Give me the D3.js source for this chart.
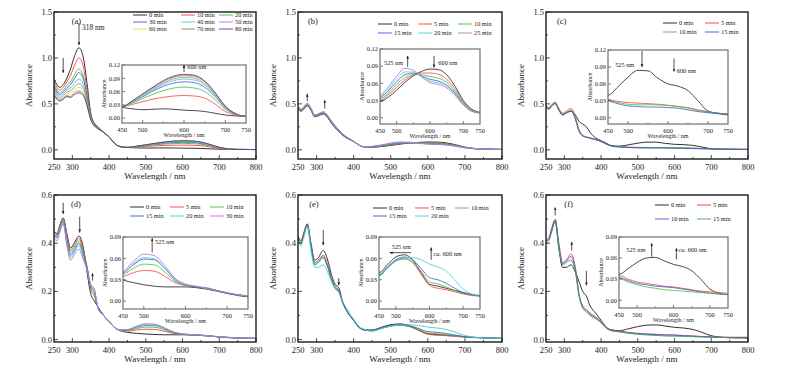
<!DOCTYPE html>
<html>
<head>
<meta charset="utf-8">
<script src="https://cdn.jsdelivr.net/npm/d3@7/dist/d3.min.js"></script>
<style>
  body { margin: 0; background: #fff; }
  svg { display: block; }
  text { font-family: 'Liberation Serif', 'Times New Roman', serif; fill: #222; }
</style>
</head>
<body>
<svg id="chart" width="790" height="381"></svg>
<script>
// shared wavelength grid (nm)
const wavelengths = [250,258,265,275,285,295,305,318,330,340,350,360,370,385,400,415,430,
  450,475,500,525,550,575,600,625,650,675,700,725,750,800];

// (a)
const namesA = ['0 min','10 min','20 min','30 min','40 min','50 min','60 min','70 min','80 min'];
const seriesA = [
  [0.77,0.71,0.68,0.71,0.78,0.88,1.01,1.11,1.00,0.72,0.40,0.29,0.25,0.19,0.14,0.07,0.035, 0.025,0.021,0.019,0.020,0.021,0.020,0.018,0.017,0.015,0.011,0.007,0.005,0.004,0.003],
  [0.74,0.68,0.65,0.68,0.74,0.81,0.91,1.00,0.90,0.65,0.38,0.28,0.245,0.19,0.14,0.07,0.035, 0.026,0.031,0.037,0.043,0.047,0.050,0.051,0.050,0.045,0.032,0.015,0.007,0.004,0.003],
  [0.71,0.65,0.62,0.65,0.70,0.74,0.81,0.88,0.80,0.59,0.36,0.275,0.24,0.19,0.14,0.07,0.035, 0.026,0.034,0.044,0.054,0.062,0.068,0.070,0.068,0.060,0.042,0.020,0.008,0.004,0.003],
  [0.69,0.63,0.60,0.63,0.67,0.71,0.77,0.84,0.77,0.57,0.355,0.27,0.24,0.19,0.14,0.07,0.035, 0.026,0.036,0.048,0.061,0.072,0.079,0.082,0.080,0.070,0.049,0.023,0.009,0.004,0.003],
  [0.67,0.61,0.58,0.61,0.65,0.67,0.72,0.77,0.71,0.54,0.345,0.27,0.235,0.19,0.14,0.07,0.035, 0.026,0.037,0.050,0.064,0.076,0.085,0.088,0.086,0.075,0.052,0.024,0.009,0.004,0.003],
  [0.65,0.59,0.56,0.59,0.63,0.64,0.68,0.72,0.67,0.52,0.34,0.265,0.235,0.19,0.14,0.07,0.035, 0.026,0.038,0.052,0.066,0.079,0.089,0.092,0.090,0.078,0.054,0.025,0.009,0.004,0.003],
  [0.63,0.57,0.55,0.57,0.61,0.61,0.65,0.68,0.64,0.50,0.335,0.265,0.23,0.19,0.14,0.07,0.035, 0.026,0.038,0.053,0.068,0.082,0.092,0.095,0.093,0.081,0.056,0.026,0.010,0.004,0.003],
  [0.61,0.56,0.54,0.56,0.59,0.58,0.62,0.64,0.61,0.49,0.33,0.26,0.23,0.19,0.14,0.07,0.035, 0.026,0.039,0.054,0.069,0.083,0.093,0.097,0.095,0.083,0.057,0.027,0.010,0.004,0.003],
  [0.59,0.55,0.53,0.55,0.58,0.57,0.60,0.62,0.59,0.48,0.33,0.26,0.23,0.19,0.14,0.07,0.035, 0.026,0.039,0.055,0.070,0.085,0.095,0.099,0.097,0.084,0.058,0.027,0.010,0.004,0.003]
];

// (b)
const namesB = ['0 min','5 min','10 min','15 min','20 min','25 min'];
const seriesB = [
  [0.45,0.42,0.44,0.48,0.43,0.36,0.37,0.39,0.35,0.29,0.24,0.20,0.16,0.12,0.09,0.05,0.03, 0.028,0.036,0.048,0.062,0.073,0.081,0.085,0.084,0.075,0.055,0.030,0.015,0.009,0.004],
  [0.455,0.425,0.445,0.485,0.435,0.365,0.375,0.395,0.355,0.295,0.245,0.205,0.165,0.12,0.09,0.05,0.03, 0.030,0.040,0.053,0.066,0.075,0.078,0.078,0.076,0.067,0.050,0.028,0.014,0.009,0.004],
  [0.46,0.43,0.45,0.49,0.44,0.37,0.38,0.40,0.36,0.30,0.25,0.21,0.17,0.125,0.09,0.05,0.03, 0.032,0.043,0.058,0.070,0.076,0.075,0.072,0.069,0.062,0.046,0.026,0.013,0.009,0.004],
  [0.465,0.435,0.455,0.495,0.445,0.37,0.385,0.405,0.365,0.305,0.255,0.21,0.17,0.125,0.09,0.05,0.03, 0.034,0.047,0.063,0.075,0.078,0.073,0.067,0.064,0.057,0.043,0.024,0.012,0.008,0.004],
  [0.47,0.44,0.46,0.50,0.45,0.375,0.39,0.41,0.37,0.31,0.26,0.215,0.175,0.13,0.09,0.05,0.03, 0.036,0.050,0.068,0.080,0.080,0.072,0.064,0.061,0.055,0.041,0.023,0.012,0.008,0.004],
  [0.475,0.445,0.465,0.51,0.455,0.38,0.395,0.415,0.375,0.315,0.265,0.22,0.175,0.13,0.095,0.05,0.03, 0.038,0.054,0.073,0.086,0.083,0.071,0.061,0.058,0.052,0.039,0.022,0.011,0.008,0.004]
];

// (c)
const namesC = ['0 min','5 min','10 min','15 min'];
const seriesC = [
  [0.47,0.45,0.48,0.51,0.44,0.38,0.40,0.42,0.38,0.31,0.28,0.25,0.19,0.13,0.10,0.07,0.045, 0.040,0.055,0.072,0.084,0.083,0.070,0.060,0.056,0.048,0.030,0.012,0.008,0.006,0.004],
  [0.48,0.46,0.49,0.52,0.45,0.40,0.42,0.45,0.36,0.22,0.16,0.14,0.13,0.115,0.095,0.065,0.04, 0.033,0.029,0.027,0.026,0.025,0.024,0.022,0.020,0.018,0.014,0.011,0.008,0.007,0.005],
  [0.47,0.45,0.48,0.51,0.44,0.39,0.41,0.43,0.34,0.21,0.155,0.14,0.13,0.11,0.09,0.06,0.04, 0.032,0.027,0.024,0.023,0.023,0.023,0.022,0.020,0.017,0.013,0.010,0.008,0.007,0.005],
  [0.46,0.44,0.47,0.50,0.43,0.38,0.40,0.42,0.33,0.20,0.15,0.135,0.125,0.11,0.09,0.06,0.04, 0.031,0.025,0.021,0.020,0.019,0.019,0.018,0.017,0.014,0.011,0.009,0.007,0.005,0.004]
];

// (d)
const namesD = ['0 min','5 min','10 min','15 min','20 min','30 min'];
const seriesD = [
  [0.45,0.44,0.47,0.505,0.44,0.38,0.40,0.43,0.38,0.28,0.19,0.16,0.135,0.10,0.075,0.05,0.037, 0.030,0.026,0.023,0.021,0.020,0.020,0.020,0.019,0.017,0.014,0.011,0.008,0.006,0.005],
  [0.445,0.435,0.465,0.50,0.43,0.37,0.39,0.42,0.37,0.30,0.21,0.18,0.13,0.10,0.075,0.05,0.038, 0.035,0.040,0.043,0.042,0.035,0.026,0.022,0.020,0.019,0.015,0.011,0.009,0.007,0.005],
  [0.44,0.43,0.46,0.495,0.42,0.36,0.38,0.41,0.36,0.30,0.215,0.19,0.13,0.10,0.075,0.05,0.039, 0.038,0.046,0.052,0.051,0.041,0.028,0.022,0.020,0.018,0.015,0.011,0.009,0.007,0.005],
  [0.435,0.425,0.455,0.49,0.41,0.35,0.37,0.40,0.35,0.30,0.22,0.20,0.13,0.10,0.075,0.05,0.04, 0.040,0.051,0.059,0.058,0.046,0.030,0.023,0.020,0.018,0.015,0.011,0.009,0.007,0.005],
  [0.43,0.42,0.45,0.485,0.40,0.34,0.36,0.39,0.34,0.29,0.225,0.205,0.13,0.10,0.075,0.05,0.04, 0.041,0.053,0.061,0.060,0.047,0.031,0.023,0.021,0.018,0.015,0.012,0.009,0.007,0.005],
  [0.42,0.41,0.44,0.48,0.39,0.33,0.35,0.375,0.33,0.29,0.23,0.21,0.13,0.10,0.075,0.05,0.041, 0.042,0.056,0.066,0.064,0.050,0.032,0.024,0.021,0.018,0.015,0.012,0.009,0.007,0.005]
];

// (e)
const namesE = ['0 min','5 min','10 min','15 min','20 min'];
const seriesE = [
  [0.43,0.41,0.44,0.48,0.40,0.33,0.34,0.37,0.33,0.27,0.23,0.215,0.16,0.11,0.08,0.05,0.04, 0.040,0.051,0.062,0.065,0.058,0.040,0.024,0.021,0.018,0.015,0.012,0.009,0.007,0.005],
  [0.42,0.40,0.435,0.475,0.39,0.32,0.33,0.35,0.31,0.26,0.22,0.205,0.155,0.11,0.08,0.05,0.04, 0.037,0.047,0.057,0.060,0.054,0.038,0.022,0.018,0.016,0.013,0.010,0.008,0.007,0.005],
  [0.42,0.40,0.43,0.47,0.39,0.315,0.325,0.345,0.305,0.255,0.22,0.20,0.155,0.11,0.08,0.05,0.04, 0.036,0.046,0.056,0.059,0.055,0.042,0.027,0.024,0.020,0.015,0.011,0.009,0.008,0.005],
  [0.415,0.40,0.43,0.475,0.385,0.31,0.32,0.34,0.30,0.25,0.215,0.20,0.155,0.11,0.08,0.05,0.04, 0.037,0.048,0.058,0.062,0.058,0.046,0.033,0.030,0.025,0.018,0.012,0.009,0.008,0.005],
  [0.41,0.39,0.42,0.47,0.37,0.30,0.30,0.31,0.28,0.24,0.21,0.195,0.16,0.12,0.085,0.055,0.042, 0.035,0.046,0.056,0.061,0.061,0.058,0.052,0.048,0.042,0.030,0.017,0.010,0.007,0.005]
];

// (f)
const namesF = ['0 min','5 min','10 min','15 min'];
const seriesF = [
  [0.41,0.42,0.45,0.49,0.38,0.30,0.30,0.31,0.28,0.24,0.20,0.18,0.14,0.11,0.08,0.05,0.04, 0.037,0.045,0.054,0.060,0.061,0.056,0.051,0.048,0.042,0.030,0.016,0.010,0.008,0.007],
  [0.41,0.42,0.46,0.50,0.40,0.32,0.33,0.355,0.30,0.19,0.14,0.125,0.11,0.095,0.075,0.05,0.038, 0.036,0.030,0.026,0.024,0.022,0.020,0.019,0.017,0.015,0.013,0.012,0.011,0.010,0.010],
  [0.41,0.42,0.455,0.495,0.39,0.315,0.325,0.345,0.29,0.185,0.135,0.12,0.105,0.09,0.072,0.048,0.037, 0.033,0.028,0.024,0.022,0.020,0.019,0.018,0.016,0.014,0.012,0.010,0.009,0.008,0.007],
  [0.40,0.41,0.445,0.49,0.38,0.31,0.32,0.33,0.28,0.18,0.13,0.115,0.10,0.087,0.07,0.046,0.036, 0.032,0.026,0.022,0.019,0.017,0.015,0.014,0.013,0.012,0.011,0.010,0.009,0.008,0.007]
];

const palette = ['#1a1a1a','#ff3b3b','#3fbf3f','#3a5cd0','#40d0d0','#c070c8','#e8e038','#8c8c4c','#4a3c9c'];
const paletteF = ['#1a1a1a','#ff3b3b','#3a5cd0','#33a07a'];
const insetPaletteF = ['#1a1a1a','#ff3b3b','#3a5cd0','#44bb44'];

const xMain = [250, 800];
const topRow = { y0: 12, y1: 159, dom: [-0.1, 1.5], major: [0, 0.5, 1.0, 1.5], minor: [0.25, 0.75, 1.25], fmt: '.1f' };
const botRow = { y0: 195, y1: 342, dom: [-0.01, 0.6], major: [0, 0.2, 0.4, 0.6], minor: [0.1, 0.3, 0.5], fmt: '.1f' };
const insetTop = { dom: [-0.011, 0.12], major: [0, 0.03, 0.06, 0.09, 0.12] };
const insetBot = { dom: [-0.011, 0.09], major: [0, 0.03, 0.06, 0.09] };

const panels = [
  { tag: '(a)', names: namesA, series: seriesA, colors: palette, row: topRow, x0: 54, x1: 256,
    tagAt: [298, 1.37],
    inset: { x0: 122, x1: 246, y0: 65, y1: 123, cfg: insetTop },
    legend: { cols: [133, 181, 219], rows: [15, 22, 29], line: 14 },
    arrows: [[318, 1.38, 318, 1.14], [275, 1.0, 275, 0.84]],
    notes: [['318 nm', 326, 1.30]],
    insetArrows: [[600, 0.104, 600, 0.12]],
    insetNotes: [['600 nm', 608, 0.111]] },
  { tag: '(b)', names: namesB, series: seriesB, colors: palette, row: topRow, x0: 298, x1: 502,
    tagAt: [277, 1.37],
    inset: { x0: 380, x1: 480, y0: 49, y1: 124, cfg: insetTop },
    legend: { cols: [378, 418, 458], rows: [24, 33], line: 14 },
    arrows: [[275, 0.53, 275, 0.61], [322, 0.45, 322, 0.54]],
    notes: [],
    insetArrows: [[533, 0.089, 533, 0.108], [612, 0.108, 612, 0.088]],
    insetNotes: [['525 nm', 462, 0.092], ['600 nm', 625, 0.092]] },
  { tag: '(c)', names: namesC, series: seriesC, colors: palette, row: topRow, x0: 546, x1: 748,
    tagAt: [280, 1.37],
    inset: { x0: 608, x1: 728, y0: 50, y1: 124, cfg: insetTop },
    legend: { cols: [663, 705], rows: [23, 32], line: 14 },
    arrows: [],
    notes: [],
    insetArrows: [[535, 0.118, 535, 0.09], [615, 0.105, 615, 0.082]],
    insetNotes: [['525 nm', 468, 0.09], ['600 nm', 622, 0.08]] },
  { tag: '(d)', names: namesD, series: seriesD, colors: palette, row: botRow, x0: 54, x1: 256,
    tagAt: [296, 0.55],
    inset: { x0: 123, x1: 248, y0: 237, y1: 309, cfg: insetBot },
    legend: { cols: [130, 170, 210], rows: [207, 216], line: 14 },
    arrows: [[275, 0.568, 275, 0.522], [320, 0.51, 320, 0.445], [355, 0.245, 355, 0.275]],
    notes: [],
    insetArrows: [[520, 0.068, 520, 0.088]],
    insetNotes: [['525 nm', 527, 0.08]] },
  { tag: '(e)', names: namesE, series: seriesE, colors: palette, row: botRow, x0: 298, x1: 502,
    tagAt: [280, 0.55],
    inset: { x0: 379, x1: 480, y0: 237, y1: 309, cfg: insetBot },
    legend: { cols: [373, 415, 455], rows: [208, 216], line: 14 },
    arrows: [[318, 0.455, 318, 0.392], [360, 0.255, 360, 0.226]],
    notes: [],
    insetArrows: [[545, 0.068, 482, 0.068], [605, 0.058, 605, 0.075]],
    insetNotes: [['525 nm', 488, 0.073], ['ca. 600 nm', 612, 0.064]] },
  { tag: '(f)', names: namesF, series: seriesF, colors: paletteF, insetColors: insetPaletteF, row: botRow, x0: 546, x1: 748,
    tagAt: [300, 0.55],
    inset: { x0: 619, x1: 728, y0: 237, y1: 308, cfg: insetBot },
    legend: { cols: [655, 697], rows: [205, 219], line: 14 },
    arrows: [[275, 0.515, 275, 0.548], [320, 0.37, 320, 0.405], [360, 0.285, 360, 0.225]],
    notes: [],
    insetArrows: [[540, 0.062, 540, 0.081], [608, 0.058, 608, 0.074]],
    insetNotes: [['525 nm', 470, 0.068], ['ca. 600 nm', 614, 0.068]] }
];

const svg = d3.select('#chart');
const defs = svg.append('defs');
defs.append('marker')
  .attr('id', 'head')
  .attr('viewBox', '0 0 10 10')
  .attr('refX', 9).attr('refY', 5)
  .attr('markerWidth', 4).attr('markerHeight', 5)
  .attr('orient', 'auto')
  .append('path').attr('d', 'M0,1 L10,5 L0,9 Z').attr('fill', '#222');

function drawAxes(g, x, y, xTicks, yTicks, opt) {
  const [xa, xb] = x.range();
  const [yb, ya] = y.range();
  // ticks point inward
  xTicks.major.forEach(v => g.append('line').attr('x1', x(v)).attr('x2', x(v)).attr('y1', yb).attr('y2', yb - opt.tick)
    .attr('stroke', '#222').attr('stroke-width', opt.sw));
  xTicks.minor.forEach(v => g.append('line').attr('x1', x(v)).attr('x2', x(v)).attr('y1', yb).attr('y2', yb - opt.tick / 2)
    .attr('stroke', '#222').attr('stroke-width', opt.sw));
  yTicks.major.forEach(v => g.append('line').attr('x1', xa).attr('x2', xa + opt.tick).attr('y1', y(v)).attr('y2', y(v))
    .attr('stroke', '#222').attr('stroke-width', opt.sw));
  (yTicks.minor || []).forEach(v => g.append('line').attr('x1', xa).attr('x2', xa + opt.tick / 2).attr('y1', y(v)).attr('y2', y(v))
    .attr('stroke', '#222').attr('stroke-width', opt.sw));
  xTicks.labels.forEach(v => g.append('text').attr('x', x(v)).attr('y', yb + opt.fs + 2)
    .attr('text-anchor', 'middle').attr('font-size', opt.fs).text(v));
  yTicks.major.forEach(v => g.append('text').attr('x', xa - 2).attr('y', y(v) + opt.fs * 0.35)
    .attr('text-anchor', 'end').attr('font-size', opt.fs).text(d3.format(opt.yfmt)(v)));
  g.append('rect').attr('x', xa).attr('y', ya).attr('width', xb - xa).attr('height', yb - ya)
    .attr('fill', 'none').attr('stroke', opt.frame).attr('stroke-width', opt.fw);
  g.append('text').attr('x', (xa + xb) / 2).attr('y', yb + opt.fs * 2 + opt.gap)
    .attr('text-anchor', 'middle').attr('font-size', opt.tfs).text('Wavelength / nm');
  g.append('text').attr('transform', `translate(${xa - opt.ylab},${(ya + yb) / 2}) rotate(-90)`)
    .attr('text-anchor', 'middle').attr('font-size', opt.tfs).text('Absorbance');
}

function drawArrow(g, x, y, a) {
  g.append('line').attr('x1', x(a[0])).attr('y1', y(a[1])).attr('x2', x(a[2])).attr('y2', y(a[3]))
    .attr('stroke', '#222').attr('stroke-width', 0.8).attr('marker-end', 'url(#head)');
}

function noteText(g, x, y, n, fs) {
  const t = g.append('text').attr('x', x(n[1])).attr('y', y(n[2])).attr('font-size', fs);
  if (n[0].startsWith('ca.')) {
    t.append('tspan').attr('font-style', 'italic').text('ca.');
    t.append('tspan').text(n[0].slice(3));
  } else t.text(n[0]);
}

panels.forEach((p, pi) => {
  const g = svg.append('g');
  const x = d3.scaleLinear().domain(xMain).range([p.x0, p.x1]);
  const y = d3.scaleLinear().domain(p.row.dom).range([p.row.y1, p.row.y0]);
  const clipId = 'clip' + pi;
  defs.append('clipPath').attr('id', clipId).append('rect')
    .attr('x', p.x0).attr('y', p.row.y0).attr('width', p.x1 - p.x0).attr('height', p.row.y1 - p.row.y0);

  const line = d3.line().x(d => x(d[0])).y(d => y(d[1])).curve(d3.curveMonotoneX);
  const curves = g.append('g').attr('clip-path', `url(#${clipId})`);
  p.series.forEach((s, i) => {
    curves.append('path').datum(wavelengths.map((w, k) => [w, s[k]]))
      .attr('d', line).attr('fill', 'none').attr('stroke', p.colors[i]).attr('stroke-width', 0.9);
  });

  drawAxes(g, x, y,
    { major: [300, 400, 500, 600, 700, 800], minor: [350, 450, 550, 650, 750], labels: [250, 300, 400, 500, 600, 700, 800] },
    { major: p.row.major, minor: p.row.minor },
    { tick: 4, sw: 0.8, fs: 8.5, tfs: 9, gap: 3, ylab: 22, frame: '#1a1a1a', fw: 1.4, yfmt: p.row.fmt });

  g.append('text').attr('x', x(p.tagAt[0])).attr('y', y(p.tagAt[1])).attr('font-size', 8.5).text(p.tag);
  p.arrows.forEach(a => drawArrow(g, x, y, a));
  p.notes.forEach(n => noteText(g, x, y, n, 7.5));

  // legend
  const L = p.legend;
  p.names.forEach((nm, i) => {
    const cx = L.cols[i % L.cols.length];
    const cy = L.rows[Math.floor(i / L.cols.length)];
    g.append('line').attr('x1', cx).attr('x2', cx + L.line).attr('y1', cy).attr('y2', cy)
      .attr('stroke', p.colors[i]).attr('stroke-width', 0.9);
    g.append('text').attr('x', cx + L.line + 2).attr('y', cy + 2.2).attr('font-size', 6.3).text(nm);
  });

  // inset: zoom of the 450-750 nm band
  const I = p.inset;
  const ix = d3.scaleLinear().domain([450, 750]).range([I.x0, I.x1]);
  const iy = d3.scaleLinear().domain(I.cfg.dom).range([I.y1, I.y0]);
  const ig = svg.append('g');
  ig.append('rect').attr('x', I.x0).attr('y', I.y0).attr('width', I.x1 - I.x0).attr('height', I.y1 - I.y0).attr('fill', '#fff');
  const iclip = 'iclip' + pi;
  defs.append('clipPath').attr('id', iclip).append('rect')
    .attr('x', I.x0).attr('y', I.y0).attr('width', I.x1 - I.x0).attr('height', I.y1 - I.y0);
  const iline = d3.line().x(d => ix(d[0])).y(d => iy(d[1])).curve(d3.curveMonotoneX);
  const icol = p.insetColors || p.colors;
  const icurves = ig.append('g').attr('clip-path', `url(#${iclip})`);
  p.series.forEach((s, i) => {
    const pts = wavelengths.map((w, k) => [w, s[k]]).filter(d => d[0] >= 430 && d[0] <= 800);
    icurves.append('path').datum(pts).attr('d', iline).attr('fill', 'none')
      .attr('stroke', icol[i]).attr('stroke-width', 0.8);
  });
  drawAxes(ig, ix, iy,
    { major: [500, 600, 700], minor: [550, 650], labels: [450, 500, 600, 700, 750] },
    { major: I.cfg.major },
    { tick: 3, sw: 0.6, fs: 6.5, tfs: 6, gap: 1, ylab: 16, frame: '#707070', fw: 1.2, yfmt: '.2f' });
  p.insetArrows.forEach(a => drawArrow(ig, ix, iy, a));
  p.insetNotes.forEach(n => noteText(ig, ix, iy, n, 6.3));
});
</script>
</body>
</html>
